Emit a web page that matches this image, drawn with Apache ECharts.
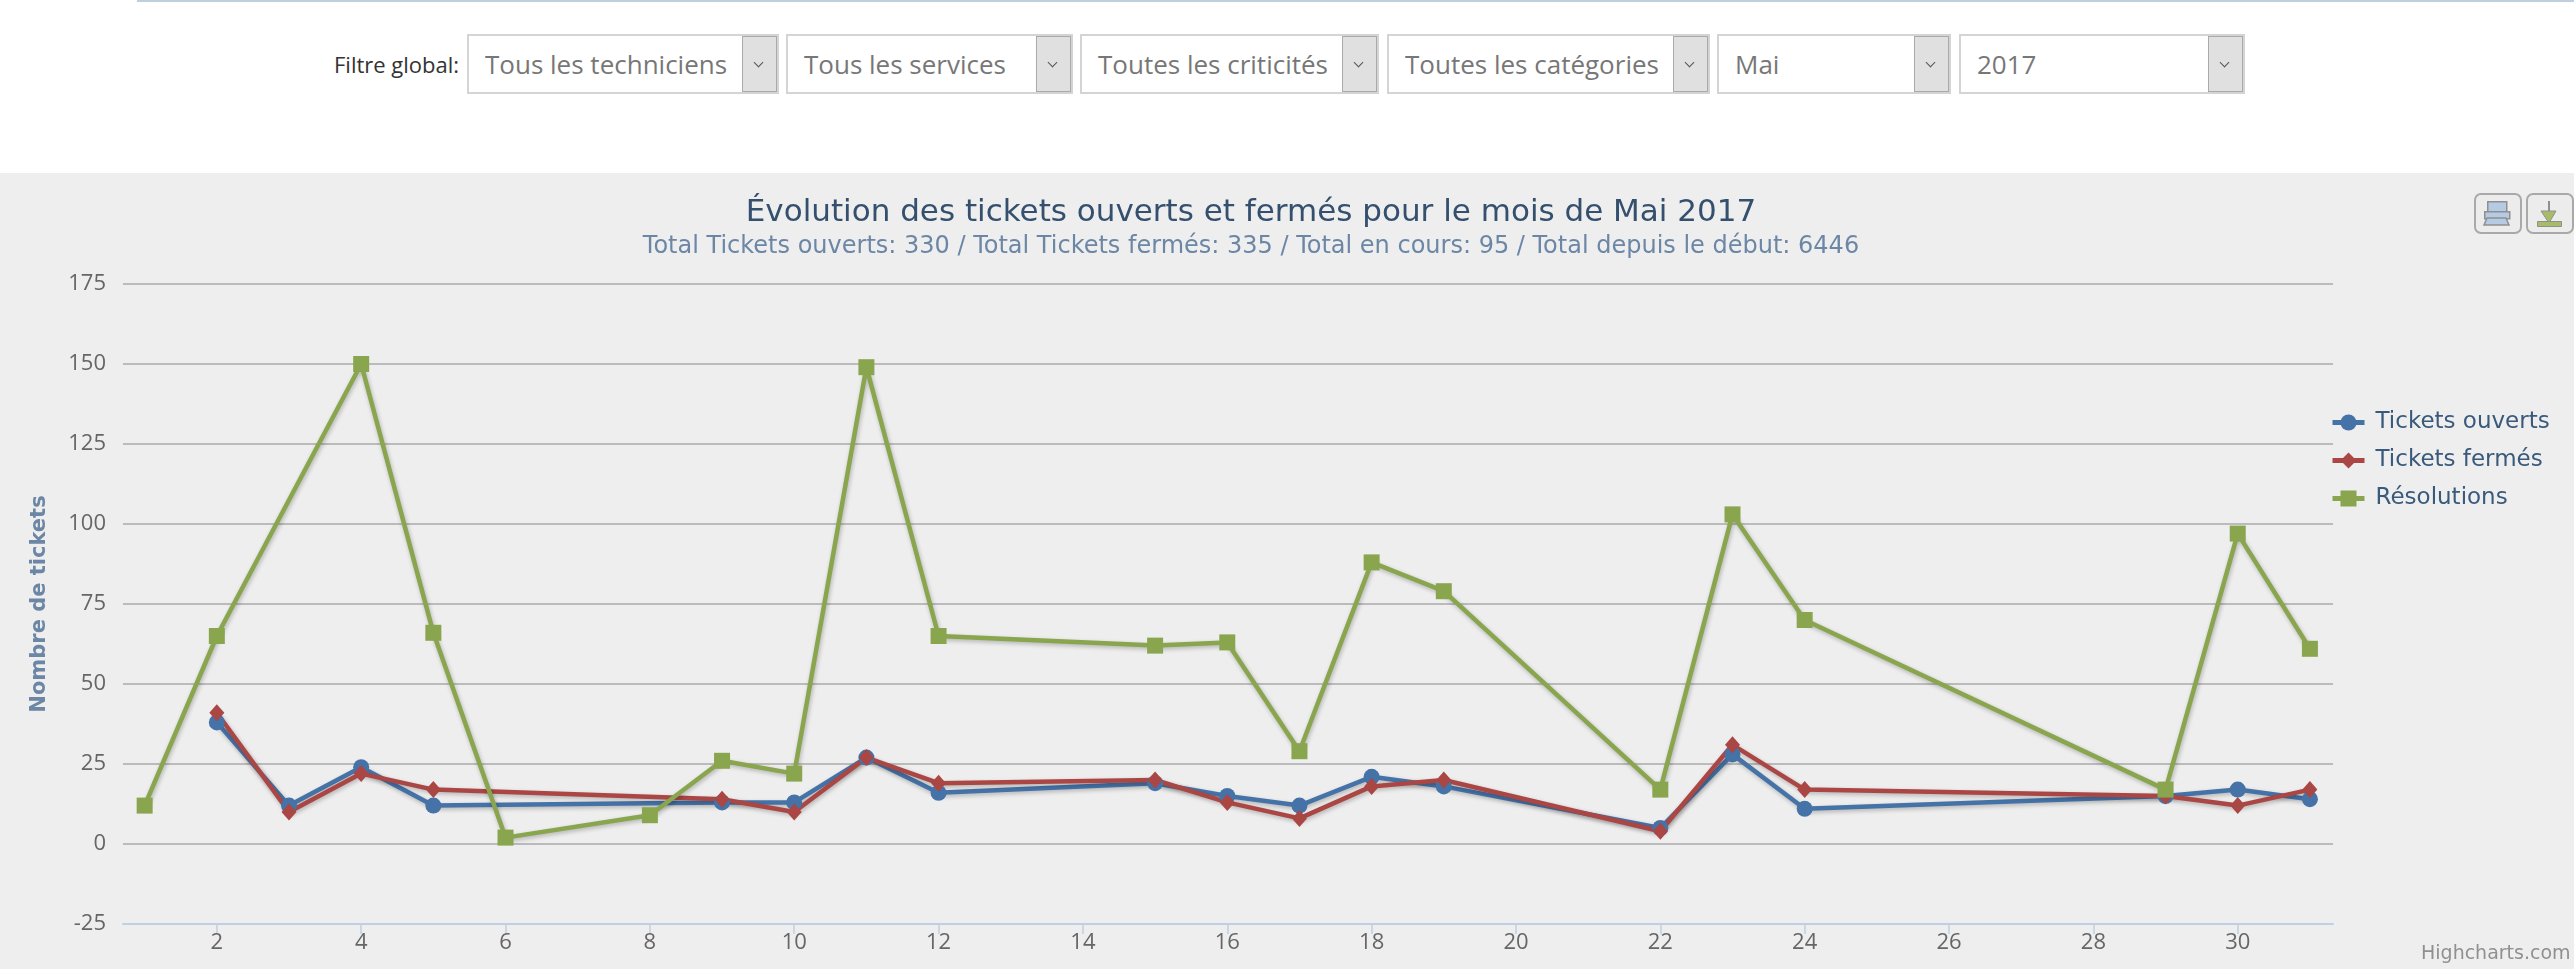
<!DOCTYPE html>
<html>
<head>
<meta charset="utf-8">
<title>Tickets</title>
<script src="https://cdn.jsdelivr.net/npm/echarts@6/dist/echarts.min.js"></script>
<style>
html, body { margin: 0; padding: 0; background: #fff; overflow: hidden; }
#topline { position: absolute; left: 137px; right: 0; top: 0; height: 2px; background: #c0cfe0; }
#filtreLabel { position: absolute; left: 334px; top: 49px; font: 22px "Open Sans"; color: #333; white-space: nowrap; }
.filtre { position: absolute; top: 34px; height: 56px; border: 2px solid #d4d4d4; background: #fff; }
.filtre span { position: absolute; left: 16px; top: 10px; font: 26px "Open Sans"; color: #777; white-space: nowrap; }
.filtre i { position: absolute; right: 0; top: 0; width: 33px; height: 54px; background: #e0e0e0; border: 1px solid #aaa; }
.filtre i:after { content: ""; position: absolute; left: 12px; top: 22px; width: 6px; height: 6px; border: solid #555; border-width: 0 1.5px 1.5px 0; transform: rotate(45deg); }
#graph { position: absolute; left: 0; top: 173px; width: 2574px; height: 796px; }
</style>
</head>
<body>
<div id="topline"></div>
<div id="filtreLabel">Filtre global:</div>
<div id="filtres"></div>
<div id="graph"></div>
<script>
var filtreTextes = ["Tous les techniciens", "Tous les services", "Toutes les criticités", "Toutes les catégories", "Mai", "2017"];
var filtreGauche = [467, 786, 1080, 1387, 1717, 1959];
var filtreLargeur = [308, 283, 295, 319, 230, 282];

var titre = "Évolution des tickets ouverts et fermés pour le mois de Mai 2017";
var sousTitre = "Total Tickets ouverts: 330 / Total Tickets fermés: 335 / Total en cours: 95 / Total depuis le début: 6446";
var ticksX = [2, 4, 6, 8, 10, 12, 14, 16, 18, 20, 22, 24, 26, 28, 30];

// jours presents pour les tickets ouverts / fermes
var joursTickets = [2, 3, 4, 5, 9, 10, 11, 12, 15, 16, 17, 18, 19, 22, 23, 24, 29, 30, 31];
var ticketsOuverts = [38, 12, 24, 12, 13, 13, 27, 16, 19, 15, 12, 21, 18, 5, 28, 11, 15, 17, 14];
var ticketsFermes = [41, 10, 22, 17, 14, 10, 27, 19, 20, 13, 8, 18, 20, 4, 31, 17, 15, 12, 17];

var joursResolutions = [1, 2, 4, 5, 6, 8, 9, 10, 11, 12, 15, 16, 17, 18, 19, 22, 23, 24, 29, 30, 31];
var resolutions = [12, 65, 150, 66, 2, 9, 26, 22, 149, 65, 62, 63, 29, 88, 79, 17, 103, 70, 17, 97, 61];

function paires(jours, valeurs) {
    return jours.map(function (j, i) { return [j, valeurs[i]]; });
}

function serie(nom, jours, valeurs, couleur, symbole, taille) {
    return {
        name: nom,
        type: 'line',
        data: paires(jours, valeurs),
        symbol: symbole,
        symbolSize: taille,
        showSymbol: true,
        animation: false,
        itemStyle: { color: couleur },
        lineStyle: {
            color: couleur,
            width: 4.5,
            shadowColor: 'rgba(0,0,0,0.25)',
            shadowBlur: 4,
            shadowOffsetX: 1,
            shadowOffsetY: 2
        }
    };
}

// barre de filtres
var html = "";
for (var i = 0; i < filtreTextes.length; i++) {
    html += '<div class="filtre" style="left:' + filtreGauche[i] + 'px;width:' + filtreLargeur[i] + 'px"><span>' + filtreTextes[i] + '</span><i></i></div>';
}
document.getElementById("filtres").innerHTML = html;

var police = '"DejaVu Sans"';
var myChart = echarts.init(document.getElementById('graph'));
var option = {
    backgroundColor: '#eeeeee',
    animation: false,
    title: {
        text: titre,
        subtext: sousTitre,
        left: 1246,
        top: 19,
        textAlign: 'center',
        itemGap: 7,
        textStyle: { fontFamily: police, fontSize: 31, fontWeight: 'normal', color: '#34506e' },
        subtextStyle: { fontFamily: police, fontSize: 24, color: '#6c87a5' }
    },
    legend: {
        orient: 'vertical',
        left: 2325,
        top: 233,
        itemWidth: 32,
        itemHeight: 20,
        itemGap: 15,
        lineStyle: { width: 5 },
        textStyle: { fontFamily: police, fontSize: 23, color: '#3a5a7c', padding: [0, 0, 0, 6] },
        data: ['Tickets ouverts', 'Tickets fermés', 'Résolutions']
    },
    grid: { left: 123, right: 241, top: 111, bottom: 45 },
    xAxis: {
        type: 'value',
        min: 0.7,
        max: 31.32,
        splitLine: { show: false },
        axisLine: { onZero: false, lineStyle: { color: '#c0d0e0', width: 2 } },
        axisTick: { customValues: ticksX, length: 10, lineStyle: { color: '#c0d0e0', width: 1.5 } },
        axisLabel: { customValues: ticksX, fontFamily: '"Open Sans"', fontSize: 22, color: '#666', margin: 8 }
    },
    yAxis: {
        type: 'value',
        min: -25,
        max: 175,
        interval: 25,
        name: 'Nombre de tickets',
        nameLocation: 'middle',
        nameGap: 73,
        nameTextStyle: { fontFamily: police, fontSize: 21, fontWeight: 'bold', color: '#6c87a5' },
        axisLine: { show: false },
        axisTick: { show: false },
        splitLine: { lineStyle: { color: '#bbbbbb', width: 2 } },
        axisLabel: { fontFamily: '"Open Sans"', fontSize: 22, color: '#666', margin: 17 }
    },
    series: [
        serie('Tickets ouverts', joursTickets, ticketsOuverts, '#4572a7', 'circle', 16),
        serie('Tickets fermés', joursTickets, ticketsFermes, '#aa4643', 'diamond', [15, 17]),
        serie('Résolutions', joursResolutions, resolutions, '#89a54e', 'rect', 16)
    ],
    graphic: [
        { type: 'rect', left: 2474, top: 20, shape: { width: 46, height: 39, r: 6 }, style: { fill: '#ececec', stroke: '#a9a9a9', lineWidth: 2 } },
        { type: 'rect', left: 2526, top: 20, shape: { width: 46, height: 39, r: 6 }, style: { fill: '#ececec', stroke: '#a9a9a9', lineWidth: 2 } },
        // icone imprimante
        { type: 'rect', left: 2487, top: 28, shape: { width: 19, height: 11 }, style: { fill: '#b5cbe3', stroke: '#909090', lineWidth: 1.5 } },
        { type: 'rect', left: 2484, top: 38, shape: { width: 25, height: 7 }, style: { fill: '#b5cbe3', stroke: '#909090', lineWidth: 1.5 } },
        { type: 'polygon', shape: { points: [[2487, 45], [2506, 45], [2509, 52], [2484, 52]] }, style: { fill: '#b5cbe3', stroke: '#909090', lineWidth: 1.5 } },
        // icone telechargement
        { type: 'rect', left: 2548, top: 28, shape: { width: 2, height: 14 }, style: { fill: '#909090' } },
        { type: 'polygon', shape: { points: [[2541, 38], [2556, 38], [2549, 50]] }, style: { fill: '#a8bb68', stroke: '#909090', lineWidth: 1 } },
        { type: 'rect', left: 2537, top: 48, shape: { width: 24, height: 5 }, style: { fill: '#a8bb68', stroke: '#909090', lineWidth: 1 } },
        // credit
        { type: 'text', left: 2421, top: 772, style: { text: 'Highcharts.com', font: '19px ' + police, fill: '#909090' } }
    ]
};
myChart.setOption(option);
</script>
</body>
</html>
